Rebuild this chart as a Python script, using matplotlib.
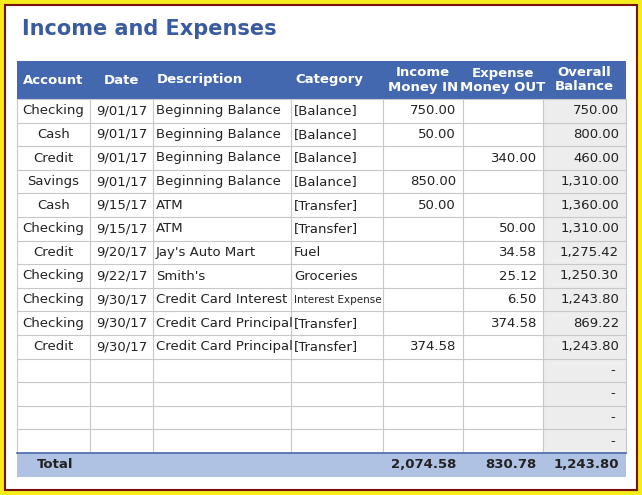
import matplotlib
matplotlib.use("Agg")
import matplotlib.pyplot as plt
from matplotlib.patches import Rectangle

title = "Income and Expenses"
headers = ["Account", "Date", "Description", "Category", "Income\nMoney IN", "Expense\nMoney OUT", "Overall\nBalance"]
accounts = ["Checking", "Cash", "Credit", "Savings", "Cash", "Checking", "Credit", "Checking", "Checking", "Checking", "Credit"]
dates = ["9/01/17", "9/01/17", "9/01/17", "9/01/17", "9/15/17", "9/15/17", "9/20/17", "9/22/17", "9/30/17", "9/30/17", "9/30/17"]
descriptions = ["Beginning Balance", "Beginning Balance", "Beginning Balance", "Beginning Balance", "ATM", "ATM",
                "Jay's Auto Mart", "Smith's", "Credit Card Interest", "Credit Card Principal", "Credit Card Principal"]
categories = ["[Balance]", "[Balance]", "[Balance]", "[Balance]", "[Transfer]", "[Transfer]", "Fuel", "Groceries",
              "Interest Expense", "[Transfer]", "[Transfer]"]
money_in = ["750.00", "50.00", "", "850.00", "50.00", "", "", "", "", "", "374.58"]
money_out = ["", "", "340.00", "", "", "50.00", "34.58", "25.12", "6.50", "374.58", ""]
balance = ["750.00", "800.00", "460.00", "1,310.00", "1,360.00", "1,310.00", "1,275.42", "1,250.30", "1,243.80", "869.22", "1,243.80"]
empty_rows = 4
totals = ["2,074.58", "830.78", "1,243.80"]

W, H = 642, 495
fig = plt.figure(figsize=(W / 100, H / 100), dpi=100)
ax = fig.add_axes([0, 0, 1, 1])
ax.set_xlim(0, W); ax.set_ylim(H, 0); ax.axis("off")

# frame
ax.add_patch(Rectangle((0, 0), W, H, facecolor="#f5ec1c", edgecolor="none"))
ax.add_patch(Rectangle((5, 5), W - 10, H - 10, facecolor="white", edgecolor="#7a1010", lw=1.5))

ax.text(22, 29, title, color="#3a5ba0", fontsize=15, fontweight="bold", va="center", ha="left")

cols = [17, 90, 153, 291, 383, 463, 543, 626]
hdr_top, hdr_bot = 61, 99
row_h = 23.6
n_rows = len(accounts) + empty_rows
tot_top = hdr_bot + n_rows * row_h
tot_bot = tot_top + 24

ax.add_patch(Rectangle((cols[0], hdr_top), cols[-1] - cols[0], hdr_bot - hdr_top, facecolor="#4468b0", edgecolor="none"))
ax.add_patch(Rectangle((cols[6], hdr_bot), cols[7] - cols[6], tot_top - hdr_bot, facecolor="#ededed", edgecolor="none"))
ax.add_patch(Rectangle((cols[0], tot_top), cols[-1] - cols[0], tot_bot - tot_top, facecolor="#b0c2e4", edgecolor="none"))

hdr_align = ["center", "center", "left", "left", "center", "center", "center"]
for i, h in enumerate(headers):
    if hdr_align[i] == "center":
        x = (cols[i] + cols[i + 1]) / 2
    else:
        x = cols[i] + 4
    ax.text(x, (hdr_top + hdr_bot) / 2, h, color="white", fontsize=9.5, fontweight="bold",
            ha=hdr_align[i], va="center", linespacing=1.1)

grid = "#c8c8c8"
for r in range(n_rows + 1):
    y = hdr_bot + r * row_h
    ax.plot([cols[0], cols[-1]], [y, y], color=grid, lw=0.8)
for c in cols:
    ax.plot([c, c], [hdr_bot, tot_top], color=grid, lw=0.8)
ax.plot([cols[0], cols[-1]], [tot_top, tot_top], color="#4468b0", lw=1.2)

fs = 9.5
for r in range(n_rows):
    yc = hdr_bot + (r + 0.5) * row_h
    if r < len(accounts):
        ax.text((cols[0] + cols[1]) / 2, yc, accounts[r], ha="center", va="center", fontsize=fs, color="#222")
        ax.text((cols[1] + cols[2]) / 2, yc, dates[r], ha="center", va="center", fontsize=fs, color="#222")
        ax.text(cols[2] + 3, yc, descriptions[r], ha="left", va="center", fontsize=fs, color="#222")
        small = len(categories[r]) > 12
        ax.text(cols[3] + 3, yc, categories[r], ha="left", va="center", fontsize=7.5 if small else fs, color="#222")
        ax.text(cols[5] - 7, yc, money_in[r], ha="right", va="center", fontsize=fs, color="#222")
        ax.text(cols[6] - 6, yc, money_out[r], ha="right", va="center", fontsize=fs, color="#222")
        ax.text(cols[7] - 7, yc, balance[r], ha="right", va="center", fontsize=fs, color="#222")
    else:
        ax.text(cols[7] - 11, yc, "-", ha="right", va="center", fontsize=fs, color="#222")

yt = (tot_top + tot_bot) / 2
ax.text(cols[0] + 20, yt, "Total", ha="left", va="center", fontsize=fs, fontweight="bold", color="#222")
for k, v in enumerate(totals):
    ax.text(cols[5 + k] - 7, yt, v, ha="right", va="center", fontsize=fs, fontweight="bold", color="#222")

fig.savefig("out.png", dpi=100)
